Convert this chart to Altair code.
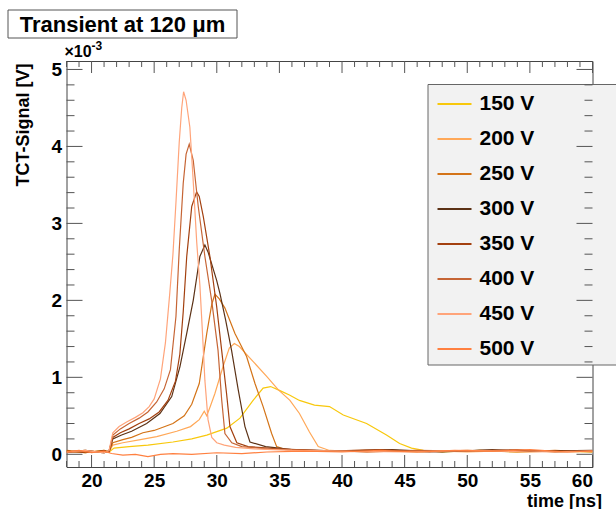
import altair as alt
import pandas as pd

LABELS = ["150 V", "200 V", "250 V", "300 V", "350 V", "400 V", "450 V", "500 V"]
COLORS = ["#f8c80c", "#ffa858", "#d47418", "#5c3216", "#a3400f", "#c66535", "#ffa47a", "#ff8040"]

C150 = [[18, 0.04], [19.5, 0.02], [21.0, 0.05], [21.4, 0.03], [21.8, 0.08], [23.0, 0.10], [24.5, 0.12],
        [26.5, 0.16], [28.0, 0.20], [29.2, 0.25], [30.8, 0.34], [31.85, 0.47], [32.9, 0.70], [33.7, 0.86],
        [34.3, 0.88], [35.0, 0.83], [35.8, 0.77], [36.6, 0.70], [37.8, 0.64], [39.0, 0.62], [40.1, 0.51],
        [41.96, 0.40], [43.55, 0.25], [44.6, 0.14], [45.55, 0.08], [46.5, 0.05], [48, 0.03], [51, 0.05],
        [54, 0.03], [57, 0.04], [60, 0.03]]
C200 = [[18, 0.03], [19.5, 0.05], [21.0, 0.03], [21.4, 0.04], [21.7, 0.12], [22.5, 0.15], [23.9, 0.19],
        [25.2, 0.23], [26.8, 0.30], [27.9, 0.36], [28.6, 0.45], [29.0, 0.56], [29.2, 0.50], [29.5, 0.63],
        [29.85, 0.79], [30.5, 1.14], [31.0, 1.38], [31.4, 1.44], [31.8, 1.40], [32.65, 1.25], [34.0, 1.01],
        [34.9, 0.84], [35.84, 0.70], [36.6, 0.53], [37.4, 0.29], [38.1, 0.10], [39, 0.05], [42, 0.03],
        [46, 0.05], [50, 0.03], [54, 0.05], [57, 0.03], [60, 0.04]]
C250 = [[18, 0.05], [19.5, 0.03], [21.0, 0.04], [21.4, 0.03], [21.7, 0.15], [22.5, 0.19], [23.2, 0.22],
        [24.1, 0.28], [25.0, 0.31], [26.5, 0.40], [27.4, 0.50], [28.0, 0.65], [28.6, 0.92], [29.2, 1.57],
        [29.6, 1.95], [29.85, 2.08], [30.2, 2.02], [30.65, 1.90], [31.45, 1.57], [32.38, 1.27], [33.05, 0.92],
        [33.7, 0.62], [34.38, 0.27], [34.78, 0.10], [35.5, 0.06], [38, 0.04], [42, 0.05], [46, 0.03],
        [50, 0.05], [54, 0.03], [57, 0.05], [60, 0.03]]
C300 = [[18, 0.03], [19.5, 0.05], [21.0, 0.02], [21.4, 0.05], [21.7, 0.20], [22.4, 0.25], [23.2, 0.30],
        [24.4, 0.40], [25.46, 0.53], [26.4, 0.75], [27.06, 1.14], [27.6, 1.57], [28.12, 2.0], [28.65, 2.57],
        [29.05, 2.72], [29.3, 2.63], [29.99, 2.26], [30.25, 2.09], [30.7, 1.75], [31.18, 1.35], [31.71, 0.84],
        [32.25, 0.36], [32.65, 0.16], [33.9, 0.10], [36, 0.06], [40, 0.04], [44, 0.06], [48, 0.03],
        [52, 0.06], [56, 0.04], [60, 0.05]]
C350 = [[18, 0.04], [19.5, 0.02], [21.0, 0.05], [21.4, 0.03], [21.7, 0.22], [22.3, 0.28], [23.0, 0.33],
        [23.8, 0.40], [24.6, 0.46], [25.4, 0.55], [26.1, 0.70], [26.7, 0.95], [27.05, 1.3], [27.32, 1.85],
        [27.6, 2.57], [28.0, 3.22], [28.39, 3.41], [28.6, 3.35], [28.92, 3.09], [29.45, 2.57], [29.99, 1.92],
        [30.39, 1.35], [30.78, 0.79], [31.05, 0.36], [31.6, 0.15], [32.5, 0.10], [35, 0.07], [39, 0.04],
        [43, 0.06], [47, 0.03], [51, 0.05], [55, 0.04], [60, 0.04]]
C400 = [[18, 0.02], [19.5, 0.04], [21.0, 0.03], [21.4, 0.04], [21.7, 0.25], [22.3, 0.33], [23.0, 0.40],
        [23.8, 0.47], [24.5, 0.55], [25.2, 0.68], [25.8, 0.85], [26.3, 1.1], [26.74, 1.79], [27.0, 2.65],
        [27.32, 3.52], [27.55, 3.9], [27.8, 4.03], [28.12, 3.82], [28.52, 3.22], [29.05, 2.57], [29.59, 2.0],
        [30.1, 1.35], [30.39, 0.71], [30.65, 0.27], [31.2, 0.15], [32.0, 0.10], [34, 0.07], [38, 0.05],
        [42, 0.03], [46, 0.05], [50, 0.04], [54, 0.06], [57, 0.03], [60, 0.04]]
C450 = [[18, 0.03], [19.5, 0.05], [21.0, 0.02], [21.4, 0.05], [21.7, 0.28], [22.2, 0.36], [22.8, 0.42],
        [23.5, 0.48], [24.1, 0.54], [24.6, 0.62], [25.0, 0.72], [25.5, 0.98], [25.9, 1.45], [26.25, 2.1],
        [26.5, 2.6], [26.75, 3.3], [27.0, 4.05], [27.2, 4.5], [27.35, 4.71], [27.55, 4.6], [27.85, 4.25],
        [28.1, 3.6], [28.4, 2.75], [28.65, 2.2], [28.85, 1.6], [29.05, 0.96], [29.3, 0.45], [29.6, 0.22],
        [30.0, 0.15], [30.6, 0.12], [31.5, 0.09], [33, 0.07], [36, 0.05], [40, 0.04], [45, 0.03],
        [50, 0.05], [55, 0.03], [60, 0.04]]
C500 = [[18, 0.03], [19, 0.05], [20, 0.02], [21, 0.04], [21.6, 0.01], [22.5, -0.01], [23.5, 0.0],
        [24.5, -0.03], [25.5, 0.0], [26.5, 0.01], [28, 0.0], [30, 0.02], [32, 0.01], [34, 0.03], [37, 0.04],
        [40, 0.03], [43, 0.05], [46, 0.03], [49, 0.05], [52, 0.04], [55, 0.06], [58, 0.03], [60, 0.04]]

CURVES = [C150, C200, C250, C300, C350, C400, C450, C500]

X_MAJOR = [20, 25, 30, 35, 40, 45, 50, 55, 60]
X_MINOR = [t for t in range(18, 61) if t % 5 != 0]
Y_MAJOR = [0, 1, 2, 3, 4, 5]
Y_MINOR = [round(0.2 * k, 1) for k in range(1, 26) if k % 5 != 0]

rows = []
for lab, cur in zip(LABELS, CURVES):
    for i, (t, v) in enumerate(cur):
        rows.append({"t": t, "v": v, "bias": lab, "i": i})
df = pd.DataFrame(rows)

W, H = 526, 406
FONT = "Liberation Sans"
AX = "#555555"

xs = alt.Scale(domain=[18, 60], nice=False, zero=False)
ys = alt.Scale(domain=[-0.165, 5.11], nice=False, zero=False)

lines = alt.Chart(df).mark_line(strokeWidth=1.2, clip=True).encode(
    x=alt.X("t:Q", scale=xs, axis=alt.Axis(
        values=X_MAJOR, format="d", ticks=False, domain=False, grid=False,
        labelFont=FONT, labelFontSize=19, labelFontWeight="bold", labelColor="black", labelPadding=4,
        title="time [ns]", titleFont=FONT, titleFontSize=18, titleFontWeight="bold", titleColor="black",
        titleAnchor="end", titleAlign="right", titleX=535, titleY=34, titleBaseline="middle")),
    y=alt.Y("v:Q", scale=ys, axis=alt.Axis(
        values=Y_MAJOR, format="d", ticks=False, domain=False, grid=False,
        labelFont=FONT, labelFontSize=19, labelFontWeight="bold", labelColor="black", labelPadding=5,
        title="TCT-Signal [V]", titleFont=FONT, titleFontSize=18, titleFontWeight="bold", titleColor="black",
        titleAngle=270, titleAlign="right", titleBaseline="middle", titleX=-43, titleY=2)),
    color=alt.Color("bias:N", scale=alt.Scale(domain=LABELS, range=COLORS), legend=alt.Legend(
        orient="none", legendX=370, legendY=25, title=None, symbolType="stroke",
        symbolSize=1156, symbolStrokeWidth=2, labelFont=FONT, labelFontSize=21,
        labelFontWeight="bold", labelColor="black", labelOffset=7, rowPadding=7, padding=0)),
    order="i:Q",
)

def tick_layer(vals, axis, **enc):
    d = pd.DataFrame({"p": vals})
    if axis == "x":
        return alt.Chart(d).mark_rule(color=AX, strokeWidth=1).encode(
            x=alt.X("p:Q", scale=xs), **enc)
    return alt.Chart(d).mark_rule(color=AX, strokeWidth=1).encode(
        y=alt.Y("p:Q", scale=ys), **enc)

ticks = [
    tick_layer(X_MAJOR, "x", y=alt.value(H), y2=alt.value(H - 12)),
    tick_layer(X_MINOR, "x", y=alt.value(H), y2=alt.value(H - 6)),
    tick_layer(X_MAJOR, "x", y=alt.value(0), y2=alt.value(12)),
    tick_layer(X_MINOR, "x", y=alt.value(0), y2=alt.value(6)),
    tick_layer(Y_MAJOR, "y", x=alt.value(0), x2=alt.value(16)),
    tick_layer(Y_MINOR, "y", x=alt.value(0), x2=alt.value(8)),
    tick_layer(Y_MAJOR, "y", x=alt.value(W), x2=alt.value(W - 16)),
    tick_layer(Y_MINOR, "y", x=alt.value(W), x2=alt.value(W - 8)),
]

one = pd.DataFrame({"a": [0]})
legend_box = alt.Chart(one).mark_rect(fill="#f2f2f2", stroke="#666666", strokeWidth=1).encode(
    x=alt.value(361.5), x2=alt.value(560), y=alt.value(23.5), y2=alt.value(304))

title_box = alt.Chart(one).mark_rect(fill="white", stroke="#555555", strokeWidth=1).encode(
    x=alt.value(-58.5), x2=alt.value(170.5), y=alt.value(-51), y2=alt.value(-23))
title_txt = alt.Chart(pd.DataFrame({"s": ["Transient at 120 \u03bcm"]})).mark_text(
    font=FONT, fontSize=22, fontWeight="bold", color="black", align="center", baseline="middle").encode(
    x=alt.value(56), y=alt.value(-36.5), text="s:N")
exp1 = alt.Chart(pd.DataFrame({"s": ["\u00d710"]})).mark_text(
    font=FONT, fontSize=16, fontWeight="bold", color="black", align="left", baseline="alphabetic").encode(
    x=alt.value(-2), y=alt.value(-4), text="s:N")
exp2 = alt.Chart(pd.DataFrame({"s": ["-3"]})).mark_text(
    font=FONT, fontSize=12, fontWeight="bold", color="black", align="left", baseline="alphabetic").encode(
    x=alt.value(25), y=alt.value(-11), text="s:N")

chart = alt.layer(legend_box, *ticks, lines, title_box, title_txt, exp1, exp2).properties(
    width=W, height=H,
    padding={"left": 66.5, "top": 61, "right": 23.5, "bottom": 42},
    autosize=alt.AutoSizeParams(type="none"),
    background="white",
).configure_view(stroke="#444444", strokeWidth=1)

chart.save("out.html", embed_options={"renderer": "svg", "actions": False})
